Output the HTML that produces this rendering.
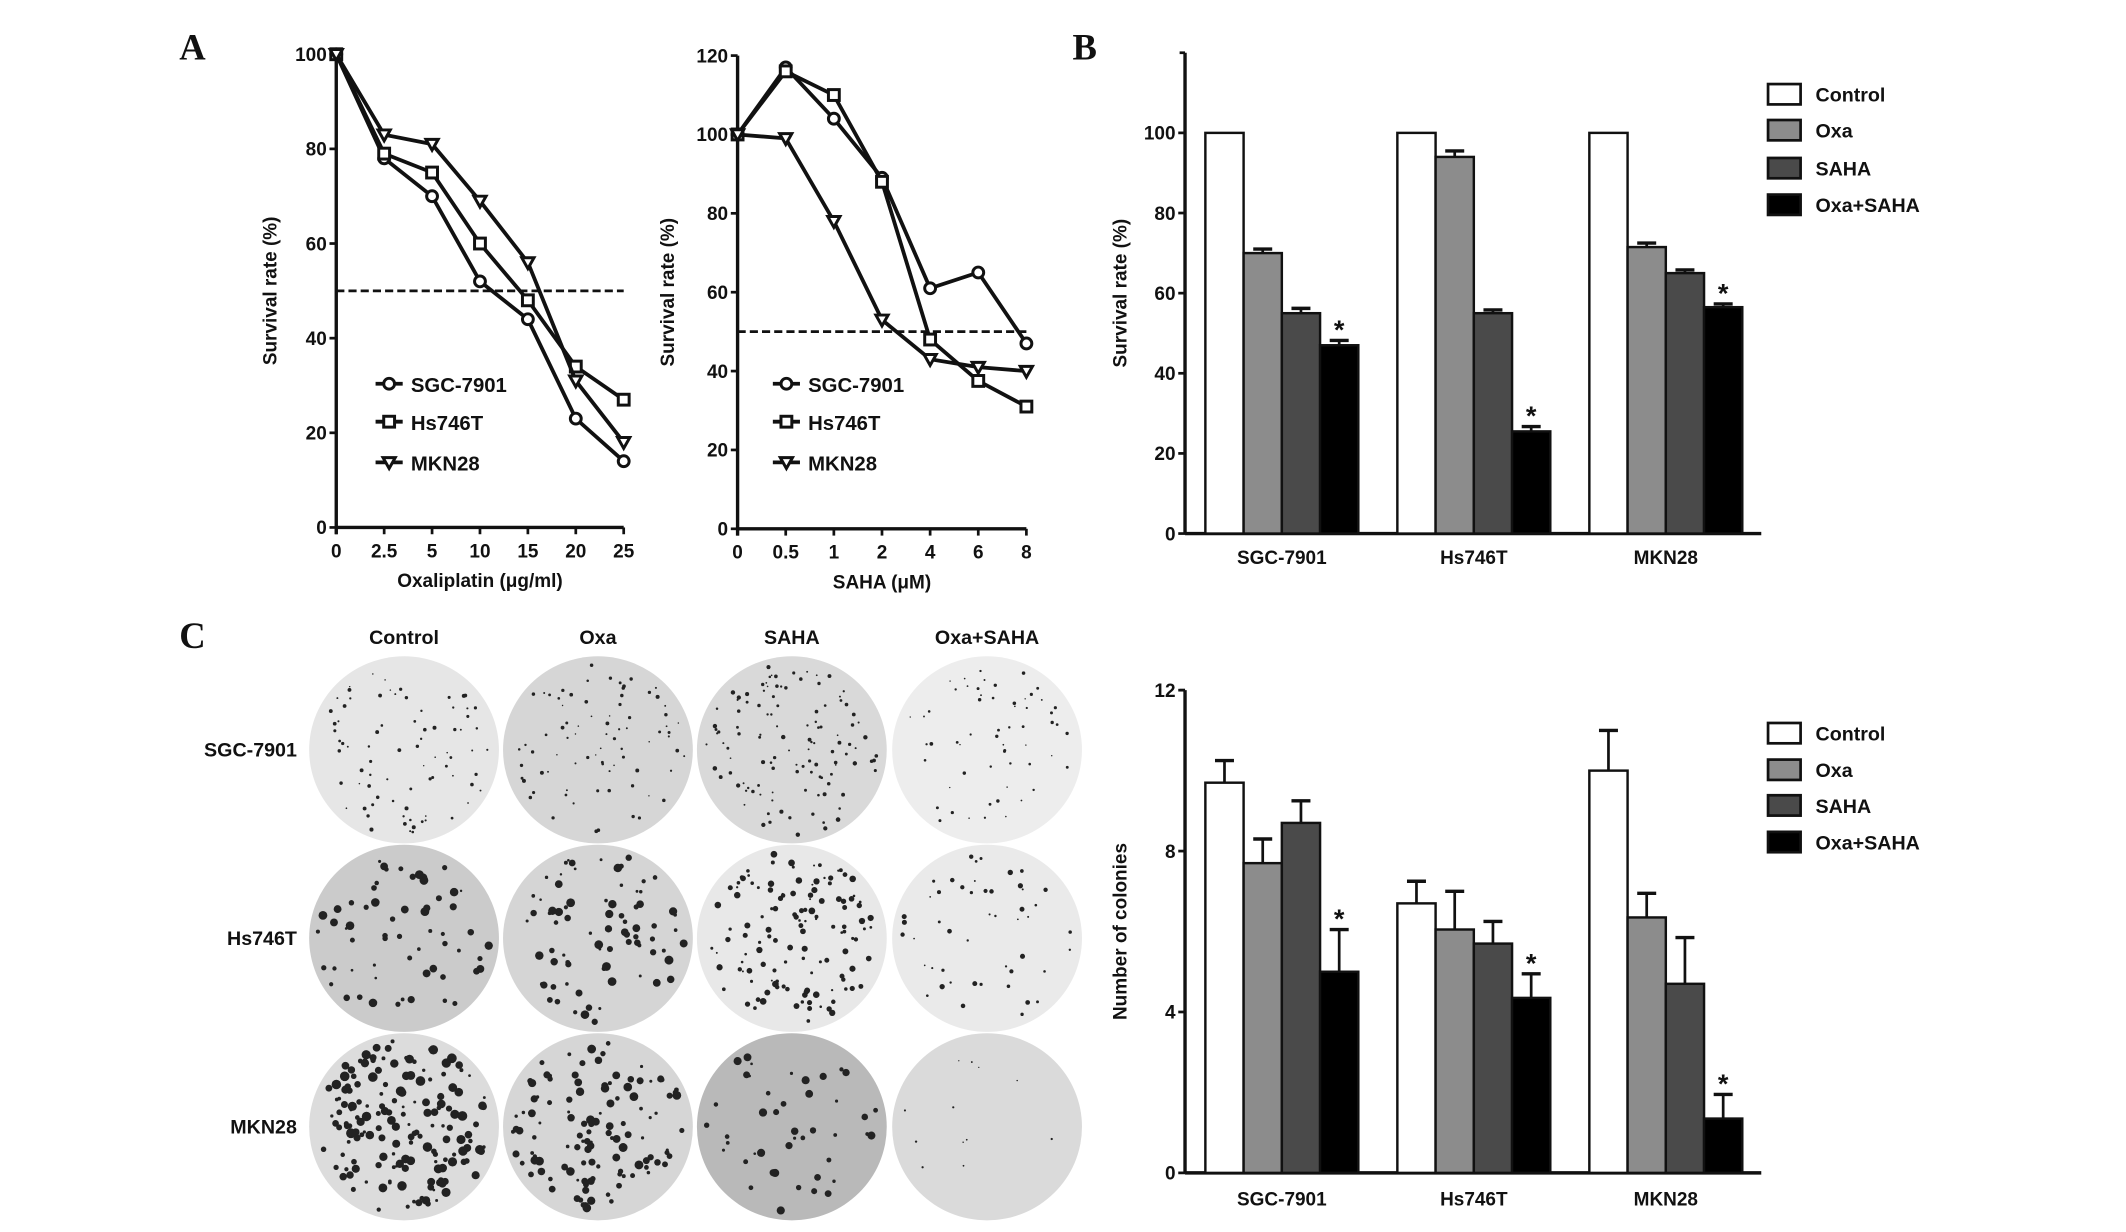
<!DOCTYPE html>
<html><head><meta charset="utf-8"><style>
html,body{margin:0;padding:0;background:#fff;}
svg{display:block;}
text{font-family:"Liberation Sans",Arial,sans-serif;font-weight:bold;fill:#111;}
text.serif{font-family:"Liberation Serif","Times New Roman",serif;}
</style></head><body>
<svg id="fig" width="2126" height="1232" viewBox="0 0 1568 908.6" preserveAspectRatio="none" xmlns="http://www.w3.org/2000/svg"></svg>
<script>
// ---- Panel A left data ----
const oxaDoses = ["0","2.5","5","10","15","20","25"];
const oxaSGC = [100,78,70,52,44,23,14];
const oxaHs = [100,79,75,60,48,34,27];
const oxaMKN = [100,83,81,69,56,31,18];
const oxaTicks = [0,20,40,60,80,100];
// ---- Panel A right data ----
const sahaDoses = ["0","0.5","1","2","4","6","8"];
const sahaSGC = [100,117,104,89,61,65,47];
const sahaHs = [100,116,110,88,48,37.5,31];
const sahaMKN = [100,99,78,53,43,41,40];
const sahaTicks = [0,20,40,60,80,100,120];
// ---- Panel B data ----
const cells = ["SGC-7901","Hs746T","MKN28"];
const groups = ["Control","Oxa","SAHA","Oxa+SAHA"];
const bControl = [100,100,100];
const bOxa = [70,94,71.5];
const bSAHA = [55,55,65];
const bCombo = [47,25.5,56.5];
const bErr = [[0,1,1.2,1.2],[0,1.5,0.8,1.2],[0,1,0.8,0.8]];
const bTicks = [0,20,40,60,80,100];
// ---- Panel C data ----
const cControl = [9.7,6.7,10.0];
const cOxa = [7.7,6.05,6.35];
const cSAHA = [8.7,5.7,4.7];
const cCombo = [5.0,4.35,1.35];
const cErr = [[0.55,0.6,0.55,1.05],[0.55,0.95,0.55,0.6],[1.0,0.6,1.15,0.6]];
const cTicks = [0,4,8,12];

const NS="http://www.w3.org/2000/svg";
const svg=document.getElementById('fig');
function el(tag,attrs,parent){const e=document.createElementNS(NS,tag);for(const k in attrs)e.setAttribute(k,attrs[k]);(parent||svg).appendChild(e);return e;}
function txt(s,x,y,size,anchor,parent,extra){const t=el('text',Object.assign({x:x,y:y,'font-size':size,'text-anchor':anchor||'middle'},extra||{}),parent);t.textContent=s;return t;}

let t;
t=txt("A",142,44,27,'middle',svg,{'class':'serif'});
t=txt("B",800,44,27,'middle',svg,{'class':'serif'});
t=txt("C",142,478,27,'middle',svg,{'class':'serif'});

function marker(g,type,x,y){
  const r=4;
  if(type==='circle') el('circle',{cx:x,cy:y,r:r,fill:'#fff',stroke:'#111','stroke-width':2.2},g);
  else if(type==='square') el('rect',{x:x-r,y:y-r,width:2*r,height:2*r,fill:'#fff',stroke:'#111','stroke-width':2.2},g);
  else el('polygon',{points:`${x-r-0.5},${y-r+0.5} ${x+r+0.5},${y-r+0.5} ${x},${y+r+0.5}`,fill:'#fff',stroke:'#111','stroke-width':2.2},g);
}

function lineChart(name,x0,x1,y0,y1,ymax,ticks,doses,series,xtitle,ytitleX,legendX){
  const g=el('g',{});
  const X=i=>x0+(x1-x0)*i/(doses.length-1);
  const Y=v=>y0-(y0-y1)*v/ymax;
  el('line',{x1:x0,y1:Y(ymax),x2:x0,y2:y0+5,stroke:'#111','stroke-width':2.5},g);
  el('line',{x1:x0,y1:y0,x2:x1,y2:y0,stroke:'#111','stroke-width':2.5},g);
  ticks.forEach(v=>{el('line',{x1:x0-5,y1:Y(v),x2:x0,y2:Y(v),stroke:'#111','stroke-width':2},g);
    const tt=txt(String(v),x0-7,Y(v)+5,14,'end',g);});
  doses.forEach((d,i)=>{el('line',{x1:X(i),y1:y0,x2:X(i),y2:y0+5,stroke:'#111','stroke-width':2},g);
    const tt=txt(d,X(i),y0+22,14,'middle',g);});
  const xt=txt(xtitle,(x0+x1)/2,y0+44,14,'middle',g);
  const yt=txt("Survival rate (%)",0,0,14,'middle',g,{transform:`translate(${ytitleX},${(y0+Y(ymax))/2}) rotate(-90)`});
  const dl=el('line',{x1:x0,y1:Y(50),x2:x1,y2:Y(50),stroke:'#111','stroke-width':2,'stroke-dasharray':'6,3'},g);
  series.forEach((s,si)=>{
    const sg=el('g',{},g);
    el('polyline',{points:s.data.map((v,i)=>X(i)+','+Y(v)).join(' '),fill:'none',stroke:'#111','stroke-width':2.8},sg);
    s.data.forEach((v,i)=>marker(sg,s.m,X(i),Y(v)));
    const ly=[283,311,341][si];
    const lg=el('g',{},g);
    el('line',{x1:legendX-10,y1:ly,x2:legendX+10,y2:ly,stroke:'#111','stroke-width':2.8},lg);
    marker(lg,s.m,legendX,ly);
    txt(s.label,legendX+16,ly+6,15,'start',lg);
  });
}
lineChart('oxaliplatin-chart',248,460,389,40,100,oxaTicks,oxaDoses,
  [{label:'SGC-7901',data:oxaSGC,m:'circle'},{label:'Hs746T',data:oxaHs,m:'square'},{label:'MKN28',data:oxaMKN,m:'tri'}],
  'Oxaliplatin (μg/ml)',204,287);
lineChart('saha-chart',544,757,390,41,120,sahaTicks,sahaDoses,
  [{label:'SGC-7901',data:sahaSGC,m:'circle'},{label:'Hs746T',data:sahaHs,m:'square'},{label:'MKN28',data:sahaMKN,m:'tri'}],
  'SAHA (μM)',497,580);

const fills=['#ffffff','#8c8c8c','#4a4a4a','#000000'];
function barChart(name,y0,yTop,ymax,topVal,ticks,vals,errs,stars,ytitle,legY,xlabY){
  const g=el('g',{});
  const x0=874,x1=1299,bw=28.2,gap=141.6,start=889;
  const Y=v=>y0-(y0-yTop)*v/ymax;
  el('line',{x1:x0,y1:Y(topVal),x2:x0,y2:y0,stroke:'#111','stroke-width':2.5},g);
  el('line',{x1:x0-4,y1:Y(topVal),x2:x0,y2:Y(topVal),stroke:'#111','stroke-width':2},g);
  el('line',{x1:x0,y1:y0,x2:x1,y2:y0,stroke:'#111','stroke-width':2.5},g);
  ticks.forEach(v=>{el('line',{x1:x0-5,y1:Y(v),x2:x0,y2:Y(v),stroke:'#111','stroke-width':2},g);
    const tt=txt(String(v),x0-7,Y(v)+5,14,'end',g);});
  const yt=txt(ytitle,0,0,14,'middle',g,{transform:`translate(831,${(y0+Y(topVal))/2}) rotate(-90)`});
  cells.forEach((c,ci)=>{
    groups.forEach((gn,gi)=>{
      const v=vals[gi][ci];const x=start+ci*gap+gi*bw;
      const e=errs[ci][gi];
      if(e>0){el('line',{x1:x+bw/2,y1:Y(v),x2:x+bw/2,y2:Y(v+e),stroke:'#111','stroke-width':2},g);
        el('line',{x1:x+bw/2-7,y1:Y(v+e),x2:x+bw/2+7,y2:Y(v+e),stroke:'#111','stroke-width':2.5},g);}
      const r=el('rect',{x:x,y:Y(v),width:bw,height:y0-Y(v),fill:fills[gi],stroke:'#111','stroke-width':1.8},g);
      
      
      if(gi===3&&stars){const s=txt('*',x+bw/2,Y(v+e)-1,20,'middle',g);}
    });
    const xl=txt(c,start+ci*gap+2*bw,xlabY,14,'middle',g);
  });
  groups.forEach((gn,gi)=>{
    const lg=el('g',{},g);
    const ly=legY[gi];
    el('rect',{x:1304,y:ly-7.5,width:24,height:15,fill:fills[gi],stroke:'#111','stroke-width':2},lg);
    txt(gn,1339,ly+5.5,14.5,'start',lg);
  });
}
barChart('viability-bar-chart',393.5,98,100,120,bTicks,[bControl,bOxa,bSAHA,bCombo],bErr,true,'Survival rate (%)',[69.5,96,124,151],416);
barChart('colony-bar-chart',865,509,12,12,cTicks,[cControl,cOxa,cSAHA,cCombo],cErr,true,'Number of colonies',[540.7,567.7,594,621],889);

// ---- colony plates ----
const colX=[298,441,584,728],rowY=[553,692,831];
const heads=['Control','Oxa','SAHA','Oxa+SAHA'],rows=['SGC-7901','Hs746T','MKN28'];
heads.forEach((h,i)=>{const tt=txt(h,colX[i],475,14.5,'middle');});
rows.forEach((r,i)=>{const tt=txt(r,219,rowY[i]+5,14.5,'end');});
const bg=[['#e6e6e6','#d6d6d6','#d9d9d9','#ededed'],['#cbcbcb','#d5d5d5','#e8e8e8','#eaeaea'],['#dcdcdc','#d6d6d6','#b9b9b9','#dadada']];
const cnt=[[80,80,120,60],[60,80,130,50],[170,120,45,12]];
const rmin=[[0.5,0.5,0.6,0.5],[0.9,0.9,0.7,0.6],[1.0,1.0,0.9,0.4]];
const rmax=[[1.0,1.0,1.1,0.9],[2.4,2.4,1.8,1.4],[2.6,2.3,2.2,0.5]];
let seed=7;function rnd(){seed=(seed*16807)%2147483647;return seed/2147483647;}
rows.forEach((r,ri)=>heads.forEach((h,ci)=>{
  const g=el('g',{});
  const cx=colX[ci],cy=rowY[ri];
  el('ellipse',{cx:cx,cy:cy,rx:70,ry:69,fill:bg[ri][ci]},g);
  for(let k=0;k<cnt[ri][ci];k++){
    const a=rnd()*Math.PI*2,d=Math.sqrt(rnd())*64;
    const rr=rmin[ri][ci]+rnd()*rmax[ri][ci];
    el('circle',{cx:cx+Math.cos(a)*d,cy:cy+Math.sin(a)*d,r:rr,fill:'#222'},g);
  }
}));
</script>
</body></html>
